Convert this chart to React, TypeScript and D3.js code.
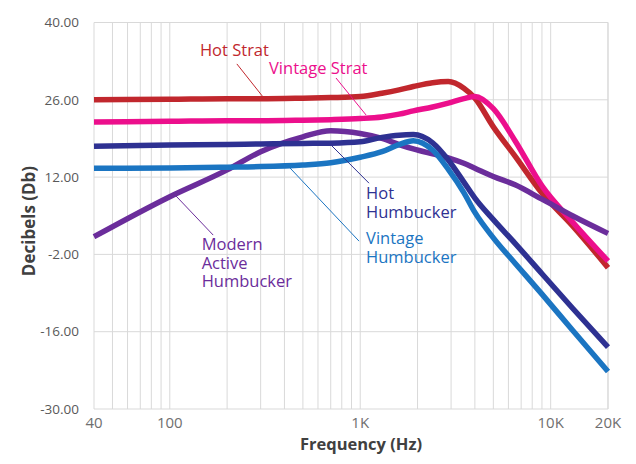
import React from "react";
import * as d3 from "d3";

// frequencies (Hz) the curves were read at
const freqs = [40, 100, 200, 300, 500, 700, 1000, 1300, 1600, 1900, 2400, 2900, 3500, 4000, 5000, 6500, 9000, 13000, 20000];

// response in dB at each frequency
const hotStrat = [26.0, 26.1, 26.2, 26.2, 26.3, 26.4, 26.6, 27.2, 27.8, 28.4, 29.1, 29.3, 28.1, 26.3, 21.1, 15.8, 9.1, 3.2, -4.4];
const vintageStrat = [22.0, 22.1, 22.2, 22.2, 22.3, 22.4, 22.6, 22.9, 23.4, 24.0, 24.7, 25.4, 26.2, 26.6, 24.4, 18.6, 10.4, 3.9, -3.2];
const hotHumbucker = [17.6, 17.8, 17.9, 18.0, 18.1, 18.15, 18.4, 19.2, 19.6, 19.7, 18.2, 15.1, 11.1, 8.2, 4.3, 0.0, -5.5, -11.7, -18.8];
const vintageHumbucker = [13.6, 13.65, 13.8, 13.9, 14.2, 14.6, 15.6, 16.6, 17.9, 18.6, 16.9, 13.4, 9.2, 5.6, 1.0, -3.6, -9.2, -15.7, -23.2];
const modernActive = [1.2, 8.45, 13.3, 16.6, 19.3, 20.4, 19.9, 19.0, 17.9, 17.1, 16.2, 15.5, 14.5, 13.6, 12.1, 10.6, 8.0, 5.0, 1.8];

const yTicks = [-30, -16, -2, 12, 26, 40];
const xTickValues = [40, 100, 1000, 10000, 20000];
const xTickLabels = ["40", "100", "1K", "10K", "20K"];

const series = [
  { name: "Hot Strat", values: hotStrat, color: "#c1272d" },
  { name: "Vintage Strat", values: vintageStrat, color: "#ec0f8c" },
  { name: "Modern Active Humbucker", values: modernActive, color: "#6b2d9b" },
  { name: "Hot Humbucker", values: hotHumbucker, color: "#2e3192" },
  { name: "Vintage Humbucker", values: vintageHumbucker, color: "#1b75c2" },
];

// label text, where its first baseline starts and its leader line, as [Hz, dB]
const labels = [
  { lines: ["Hot Strat"], color: "#c1272d", at: [144, 33.9], from: [225, 32.5], to: [309, 26.5] },
  { lines: ["Vintage Strat"], color: "#ec0f8c", at: [332, 30.7], from: [746, 29.95], to: [1073, 23.25] },
  { lines: ["Hot", "Humbucker"], color: "#2e3192", at: [1073, 8.0], from: [703, 17.8], to: [1112, 10.9] },
  { lines: ["Vintage", "Humbucker"], color: "#1b75c2", at: [1073, -0.1], from: [428, 13.65], to: [986, 0.4] },
  { lines: ["Modern", "Active", "Humbucker"], color: "#6b2d9b", at: [147, -1.2], from: [106.6, 8.76], to: [169, 1.5] },
];

const W = 636;
const H = 464;
const margin = { top: 22.5, right: 28, bottom: 55, left: 94 };

const App: React.FC = () => {
  const x = d3.scaleLog().domain([40, 20000]).range([margin.left, W - margin.right]);
  const y = d3.scaleLinear().domain([-30, 40]).range([H - margin.bottom, margin.top]);

  const gridX: number[] = [];
  [10, 100, 1000, 10000].forEach((dec) => {
    for (let k = 1; k <= 9; k++) {
      const f = dec * k;
      if (f >= 40 && f <= 20000) gridX.push(f);
    }
  });
  gridX.push(20000);

  const line = d3
    .line<number>()
    .x((_, i) => x(freqs[i]))
    .y((d) => y(d))
    .curve(d3.curveMonotoneX);

  const font = "'Open Sans', 'DejaVu Sans', sans-serif";

  return (
    <svg width={W} height={H} style={{ position: "absolute", left: 0, top: 0, background: "#fff" }} fontFamily={font}>
      <g>
        {gridX.map((f) => (
          <line key={"gx" + f} x1={x(f)} x2={x(f)} y1={y(40)} y2={y(-30)} stroke="#d9d9d9" strokeWidth={1} />
        ))}
        {yTicks.map((t) => (
          <line key={"gy" + t} x1={x(40)} x2={x(20000)} y1={y(t)} y2={y(t)} stroke="#d9d9d9" strokeWidth={1} />
        ))}
      </g>
      <g>
        {yTicks.map((t) => (
          <text key={"yl" + t} x={79} y={y(t)} dy="0.35em" textAnchor="end" fontSize={13.5} fill="#595959">
            {t.toFixed(2)}
          </text>
        ))}
        {xTickValues.map((t, i) => (
          <text key={"xl" + t} x={x(t)} y={428} textAnchor="middle" fontSize={15} fill="#6f6f6f">
            {xTickLabels[i]}
          </text>
        ))}
      </g>
      <text x={361} y={450} textAnchor="middle" fontSize={16.5} fontWeight="bold" fill="#404040">
        Frequency (Hz)
      </text>
      <text
        transform={`translate(35,${221}) rotate(-90)`}
        textAnchor="middle"
        fontSize={17}
        fontWeight="bold"
        fill="#404040"
      >
        Decibels (Db)
      </text>
      <g fill="none" strokeLinecap="butt" strokeLinejoin="round">
        {series.map((s) => (
          <path key={s.name} d={line(s.values) || ""} stroke={s.color} strokeWidth={5.5} />
        ))}
      </g>
      <g>
        {labels.map((l) => (
          <g key={l.lines.join(" ")}>
            <line
              x1={x(l.from[0])}
              y1={y(l.from[1])}
              x2={x(l.to[0])}
              y2={y(l.to[1])}
              stroke={l.color}
              strokeWidth={1}
            />
            <text x={x(l.at[0])} y={y(l.at[1])} fontSize={16.5} fill={l.color}>
              {l.lines.map((t, i) => (
                <tspan key={t + i} x={x(l.at[0])} dy={i === 0 ? 0 : 18.7}>
                  {t}
                </tspan>
              ))}
            </text>
          </g>
        ))}
      </g>
    </svg>
  );
};

export default App;
